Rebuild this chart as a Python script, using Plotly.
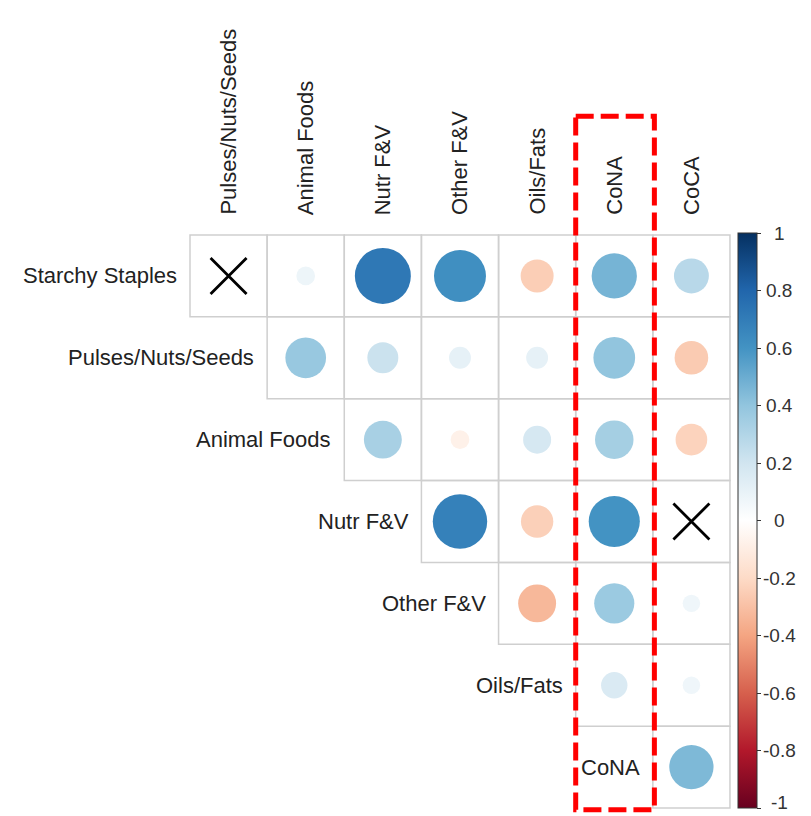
import plotly.graph_objects as go

# Food-group cost correlations (upper triangle, rows x columns)
row_labels = ["Starchy Staples", "Pulses/Nuts/Seeds", "Animal Foods", "Nutr F&V",
              "Other F&V", "Oils/Fats", "CoNA"]
col_labels = ["Pulses/Nuts/Seeds", "Animal Foods", "Nutr F&V", "Other F&V",
              "Oils/Fats", "CoNA", "CoCA"]

# None = not significant (drawn as a cross)
corr_starchy = [None, 0.08, 0.72, 0.62, -0.25, 0.47, 0.28]
corr_pulses = [0.38, 0.22, 0.11, 0.11, 0.40, -0.26]
corr_animal = [0.33, -0.08, 0.18, 0.34, -0.23]
corr_nutr_fv = [0.68, -0.24, 0.60, None]
corr_other_fv = [-0.33, 0.37, 0.07]
corr_oils = [0.16, 0.07]
corr_cona = [0.45]

rows_values = [corr_starchy, corr_pulses, corr_animal, corr_nutr_fv,
               corr_other_fv, corr_oils, corr_cona]

colorbar_ticks = [-1, -0.8, -0.6, -0.4, -0.2, 0, 0.2, 0.4, 0.6, 0.8, 1]
colorbar_ticktext = ["-1", "-0.8", "-0.6", "-0.4", "-0.2", "0", "0.2", "0.4", "0.6", "0.8", "1"]
highlight_col = "CoNA"

rdbu = ["#67001F", "#B2182B", "#D6604D", "#F4A582", "#FDDBC7", "#FFFFFF",
        "#D1E5F0", "#92C5DE", "#4393C3", "#2166AC", "#053061"]
colorscale = [[i / (len(rdbu) - 1), c] for i, c in enumerate(rdbu)]

FONT = "Liberation Sans, Arial, sans-serif"
TXT = "#222222"
MAX_D = 66  # marker diameter (px) for |r| = 1

W, H = 811, 816
CB_TOP, CB_LEN = 233, 575  # colour bar placement in px
LABEL_SIZE = 19

cx, cy, cv, cs = [], [], [], []
xx, xy = [], []
shapes = []
n = len(row_labels)
for i, vals in enumerate(rows_values):
    for k, v in enumerate(vals):
        j = i + k
        shapes.append(dict(type="rect", xref="x", yref="y", x0=j, x1=j + 1, y0=i, y1=i + 1,
                           line=dict(color="#cfcfcf", width=1.5), layer="below"))
        if v is None:
            xx.append(j + 0.5)
            xy.append(i + 0.5)
        else:
            cx.append(j + 0.5)
            cy.append(i + 0.5)
            cv.append(v)
            cs.append(MAX_D * abs(v) ** 0.5)

fig = go.Figure()
fig.add_trace(go.Scatter(
    x=cx, y=cy, mode="markers", hoverinfo="text",
    text=[f"{v:.2f}" for v in cv],
    marker=dict(size=cs, color=cv, colorscale=colorscale, cmin=-1, cmax=1,
                line=dict(width=0), opacity=1,
                colorbar=dict(x=738 / W, xanchor="left", xpad=0,
                              y=1 - CB_TOP / H, yanchor="top", ypad=0,
                              len=CB_LEN, lenmode="pixels", thickness=19,
                              outlinewidth=1, outlinecolor="#333333",
                              ticks="outside", ticklen=4, tickcolor="#333333",
                              tickvals=colorbar_ticks, showticklabels=False)),
    showlegend=False))
fig.add_trace(go.Scatter(
    x=xx, y=xy, mode="markers", hoverinfo="skip",
    marker=dict(symbol="x-thin", size=36, line=dict(color="black", width=2.8)),
    showlegend=False))

annotations = []
for i, lab in enumerate(row_labels):
    annotations.append(dict(x=i - 0.14, y=i + 0.5, xref="x", yref="y", text=lab,
                            showarrow=False, xanchor="right", yanchor="middle",
                            font=dict(family=FONT, size=22, color=TXT)))
for j, lab in enumerate(col_labels):
    annotations.append(dict(x=j + 0.5, y=-0.22, xref="x", yref="y", text=lab,
                            showarrow=False, textangle=-90, xanchor="center", yanchor="bottom",
                            font=dict(family=FONT, size=22, color=TXT)))

# colour-bar tick labels, centred next to the ticks (kept inside the page)
for v, t in zip(colorbar_ticks, colorbar_ticktext):
    ypx = min(CB_TOP + (1 - v) / 2 * CB_LEN, H - LABEL_SIZE * 0.7)
    annotations.append(dict(x=779 / W, y=1 - ypx / H, xref="paper", yref="paper", text=t,
                            showarrow=False, xanchor="center", yanchor="middle",
                            font=dict(family=FONT, size=LABEL_SIZE, color="#333333")))

hc = col_labels.index(highlight_col)
shapes.append(dict(type="rect", xref="x", yref="y", x0=hc, x1=hc + 1.02, y0=-1.45, y1=n + 0.02,
                   line=dict(color="#ff0000", width=5, dash="18px,7px"), layer="above"))

fig.update_layout(
    width=W, height=H,
    margin=dict(l=0, r=0, t=0, b=0, pad=0, autoexpand=False),
    paper_bgcolor="white", plot_bgcolor="white",
    xaxis=dict(range=[-190 / 77.14, 621 / 77.14], visible=False, fixedrange=True),
    yaxis=dict(range=[581 / 81.86, -235 / 81.86], visible=False, fixedrange=True),
    shapes=shapes, annotations=annotations,
)

fig.write_html("out.html")
